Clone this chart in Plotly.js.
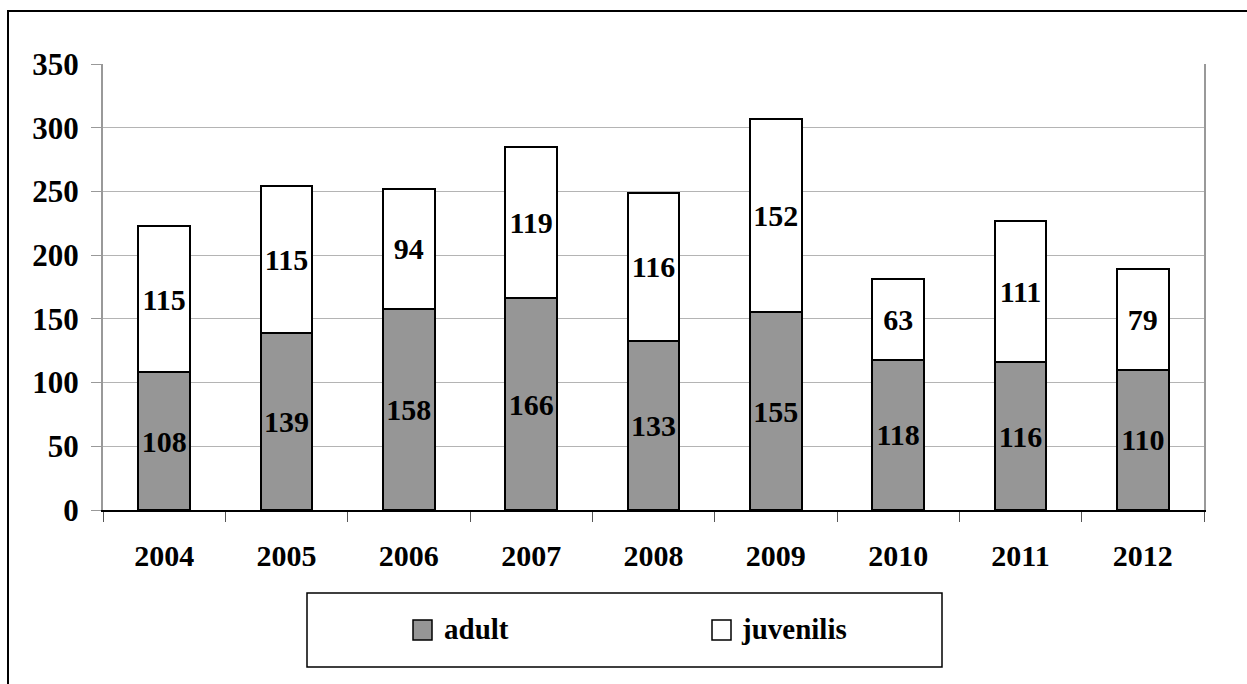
<!DOCTYPE html>
<html>
<head>
<meta charset="utf-8">
<script src="https://cdn.plot.ly/plotly-3.0.1.min.js"></script>
<style>
  html, body { margin: 0; padding: 0; background: #ffffff; }
  #chart { width: 1247px; height: 684px; }
</style>
</head>
<body>
<div id="chart"></div>
<script>
// ---- data ----
const years = ['2004', '2005', '2006', '2007', '2008', '2009', '2010', '2011', '2012'];
const adult = [108, 139, 158, 166, 133, 155, 118, 116, 110];
const juvenilis = [115, 115, 94, 119, 116, 152, 63, 111, 79];
const seriesNames = ['adult', 'juvenilis'];
const yTicks = [0, 50, 100, 150, 200, 250, 300, 350];

// ---- layout helpers (pixel -> paper) ----
const W = 1247, H = 684;
const L = 103, R = 1204, T = 64, B = 510;
const px = x => (x - L) / (R - L);
const py = y => (B - y) / (B - T);

const FONT = 'Liberation Serif';

const traces = [
  {
    type: 'bar', name: seriesNames[0], x: years, y: adult,
    text: adult.map(String), textposition: 'inside', insidetextanchor: 'middle',
    textangle: 0, constraintext: 'none',
    textfont: { family: FONT, size: 30, color: '#000000', weight: 'bold' },
    marker: { color: '#969696', line: { color: '#000000', width: 2 } },
    hoverinfo: 'skip', showlegend: false
  },
  {
    type: 'bar', name: seriesNames[1], x: years, y: juvenilis,
    text: juvenilis.map(String), textposition: 'inside', insidetextanchor: 'middle',
    textangle: 0, constraintext: 'none',
    textfont: { family: FONT, size: 30, color: '#000000', weight: 'bold' },
    marker: { color: '#ffffff', line: { color: '#000000', width: 2 } },
    hoverinfo: 'skip', showlegend: false
  }
];

const legendItems = [
  { name: seriesNames[0], color: '#969696', sx: 413, tx: 442 },
  { name: seriesNames[1], color: '#ffffff', sx: 712, tx: 739 }
];

const shapes = [
  // outer frame (top and left edges visible)
  { type: 'rect', xref: 'paper', yref: 'paper', x0: px(8), x1: px(1300), y0: py(760), y1: py(11),
    line: { color: '#000000', width: 2 }, fillcolor: 'rgba(0,0,0,0)', layer: 'below' },
  // legend box
  { type: 'rect', xref: 'paper', yref: 'paper', x0: px(307), x1: px(942), y0: py(667), y1: py(593),
    line: { color: '#000000', width: 1.5 }, fillcolor: '#ffffff' }
];
const annotations = [];
legendItems.forEach(it => {
  shapes.push({ type: 'rect', xref: 'paper', yref: 'paper',
    x0: px(it.sx), x1: px(it.sx + 19), y0: py(640), y1: py(620),
    line: { color: '#000000', width: 1.5 }, fillcolor: it.color });
  annotations.push({ xref: 'paper', yref: 'paper', x: px(it.tx), y: py(629),
    xanchor: 'left', yanchor: 'middle', showarrow: false, text: it.name,
    font: { family: FONT, size: 29, color: '#000000', weight: 'bold' } });
});

const layout = {
  width: W, height: H,
  margin: { l: L, r: W - R, t: T, b: H - B, pad: 0 },
  paper_bgcolor: '#ffffff', plot_bgcolor: '#ffffff',
  barmode: 'stack', bargap: 0.58,
  showlegend: false,
  font: { family: FONT, color: '#000000' },
  xaxis: {
    type: 'category', tickson: 'boundaries',
    ticks: 'outside', ticklen: 10, tickwidth: 1, tickcolor: '#555555',
    showline: true, linecolor: '#000000', linewidth: 2,
    showgrid: false, zeroline: false,
    ticklabelstandoff: 18,
    tickfont: { family: FONT, size: 30, color: '#000000', weight: 'bold' }
  },
  yaxis: {
    range: [0, 350], tickvals: yTicks, ticktext: yTicks.map(String),
    ticks: 'outside', ticklen: 10, tickwidth: 1, tickcolor: '#999999',
    showline: true, linecolor: '#999999', linewidth: 2, mirror: true,
    showgrid: true, gridcolor: '#b4b4b4', gridwidth: 1,
    zeroline: false,
    ticklabelstandoff: 6,
    tickfont: { family: FONT, size: 31, color: '#000000', weight: 'bold' }
  },
  shapes: shapes,
  annotations: annotations
};

Plotly.newPlot('chart', traces, layout, { displayModeBar: false, staticPlot: true });
</script>
</body>
</html>
